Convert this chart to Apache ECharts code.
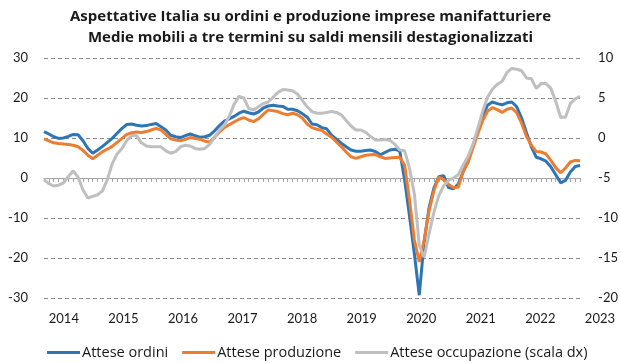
<!DOCTYPE html>
<html>
<head>
<meta charset="utf-8">
<script src="https://cdn.jsdelivr.net/npm/echarts@6/dist/echarts.min.js"></script>
<style>
  html, body { margin: 0; padding: 0; background: #fff; }
  #chart { width: 621px; height: 363px; }
</style>
</head>
<body>
<div id="chart"></div>
<script>
// Year labels on the time axis (one per January, months counted from Jan 2014)
const yearLabels = ['2014', '2015', '2016', '2017', '2018', '2019', '2020', '2021', '2022', '2023'];
// Month of the first observation, relative to January 2014 (Sep 2013)
const firstMonth = -4;

// Three-term moving averages of seasonally adjusted balances, monthly
const atteseOrdini = [
  11.6, 11.0, 10.3, 9.9, 10.0, 10.4, 10.9, 10.8, 9.3, 7.4,
  6.2, 7.0, 7.9, 8.9, 9.9, 11.2, 12.4, 13.4, 13.5, 13.2,
  13.0, 13.1, 13.4, 13.6, 12.8, 12.0, 10.7, 10.3, 10.1, 10.6,
  11.0, 10.6, 10.2, 10.3, 10.7, 11.8, 13.1, 14.2, 14.8, 15.4,
  16.2, 16.7, 16.3, 16.0, 16.5, 17.5, 18.0, 18.2, 18.0, 17.9,
  17.2, 17.2, 16.8, 16.1, 15.2, 13.5, 13.3, 12.6, 12.3, 10.7,
  9.7, 8.7, 7.8, 7.0, 6.7, 6.7, 6.9, 7.0, 6.6, 5.8,
  6.4, 7.0, 7.2, 6.7, -0.5, -9.5, -19.0, -29.3, -16.0, -7.5,
  -2.5, 0.3, 0.6, -2.4, -2.7, -1.5, 1.5, 4.6, 8.0, 11.8,
  15.3, 18.2, 19.0, 18.6, 18.3, 18.8, 19.0, 17.8, 15.0, 11.3,
  7.8, 5.2, 4.8, 4.2, 2.8, 0.8, -1.2, -0.6, 1.5, 2.9,
  3.1
];
const atteseProduzione = [
  9.8, 9.3, 8.8, 8.6, 8.5, 8.4, 8.2, 7.8, 6.9, 5.7,
  4.8, 5.7, 6.6, 7.2, 7.9, 8.9, 9.9, 10.9, 11.3, 11.5,
  11.4, 11.6, 12.0, 12.4, 12.0, 10.9, 9.8, 9.5, 9.3, 9.7,
  10.1, 9.9, 9.7, 9.2, 9.0, 10.2, 11.5, 12.6, 13.3, 14.0,
  14.7, 15.1, 14.5, 14.1, 14.8, 15.9, 17.0, 16.8, 16.6, 16.1,
  15.8, 16.2, 15.8, 15.0, 13.5, 12.6, 12.2, 11.9, 11.0, 10.2,
  9.0, 7.8, 6.5, 5.3, 4.9, 5.3, 5.7, 5.8, 5.9, 5.3,
  4.9, 5.0, 5.1, 5.2, 3.2, -5.5, -15.5, -21.0, -15.5, -8.3,
  -3.2, 0.2, -0.4, -1.6, -2.4, -2.3, 1.6, 3.8, 7.5, 11.0,
  14.3, 16.7, 17.6, 17.1, 16.4, 17.2, 17.5, 16.3, 13.7, 10.4,
  8.2, 6.6, 6.5, 6.0, 4.4, 2.6, 1.3, 2.5, 4.0, 4.4,
  4.3
];
const atteseOccupazione = [
  -5.2, -5.7, -6.0, -5.9, -5.6, -4.8, -4.1, -4.9, -6.5, -7.5,
  -7.3, -7.1, -6.6, -5.2, -3.2, -2.0, -1.3, -0.3, 0.3, 0.3,
  -0.6, -1.0, -1.1, -1.1, -1.1, -1.6, -1.9, -1.7, -1.1, -0.9,
  -1.0, -1.3, -1.4, -1.3, -0.8, 0.1, 1.0, 1.6, 2.7, 4.2,
  5.2, 5.0, 3.7, 3.5, 3.9, 4.3, 4.5, 5.1, 5.7, 6.05,
  6.0, 5.9, 5.5, 4.7, 3.9, 3.3, 3.1, 3.1, 3.2, 3.3,
  3.2, 2.9, 2.2, 1.5, 1.0, 1.0, 0.7, 0.2, -0.25, -0.25,
  -0.2, -0.3, -0.8, -1.5, -1.6, -3.8, -7.0, -13.4, -14.9, -12.0,
  -9.3, -7.2, -6.0, -5.3, -5.0, -4.6, -3.4, -2.3, -0.8, 1.2,
  3.3, 5.1, 6.1, 6.7, 7.1, 8.2, 8.7, 8.6, 8.4, 7.5,
  7.4, 6.2, 6.8, 6.8, 6.2, 4.6, 2.6, 2.6, 4.3, 4.9,
  5.2
];

const seriesNames = ['Attese ordini', 'Attese produzione', 'Attese occupazione (scala dx)'];
const seriesColors = ['#2E75B6', '#ED7D31', '#BFBFBF'];

const toPoints = arr => arr.map((v, i) => [firstMonth + i, v]);
const lastMonth = firstMonth + atteseOrdini.length - 1;

const FONT = 'Lato, "Open Sans", sans-serif';
const WIDE_FONT = '"Open Sans", Lato, sans-serif';
const TEXT = '#1a1a1a';

// Plot area edges (px)
const plotLeft = 44, plotRight = 590, plotTop = 58, plotBottom = 298, W = 621, H = 363;
const pxPerMonth = (plotRight - plotLeft) / (lastMonth - firstMonth);
// Label strip: same month scale, spanning Jan 2013 .. lastMonth + 4
const labMin = -12, labMax = lastMonth + 4;
const labLeft = plotLeft - (firstMonth - labMin) * pxPerMonth;
const labRight = plotRight + (labMax - lastMonth) * pxPerMonth;

const chart = echarts.init(document.getElementById('chart'), null, { renderer: 'canvas' });

chart.setOption({
  animation: false,
  backgroundColor: '#fff',
  textStyle: { fontFamily: FONT },
  title: {
    text: 'Aspettative Italia su ordini e produzione imprese manifatturiere\nMedie mobili a tre termini su saldi mensili destagionalizzati',
    left: 'center',
    top: 1,
    textStyle: { fontFamily: WIDE_FONT, fontSize: 15, fontWeight: 'bold', color: TEXT, lineHeight: 21 }
  },
  legend: {
    data: seriesNames,
    left: 42,
    top: 340,
    icon: 'rect',
    itemWidth: 33,
    itemHeight: 3,
    itemGap: 14,
    textStyle: { fontFamily: WIDE_FONT, fontSize: 14.5, color: TEXT, padding: [0, 0, 0, -3] }
  },
  grid: [
    { left: plotLeft, right: W - plotRight, top: plotTop, bottom: H - plotBottom },
    { left: labLeft, right: W - labRight, top: plotBottom - 10, bottom: H - plotBottom }
  ],
  xAxis: [
    {
      type: 'value', gridIndex: 0,
      min: firstMonth, max: lastMonth, interval: 1,
      axisLine: { show: true, onZero: true, onZeroAxisIndex: 0, lineStyle: { color: '#A6A6A6', width: 1 } },
      axisTick: { show: true, length: 4, lineStyle: { color: '#A6A6A6' } },
      axisLabel: { show: false },
      splitLine: { show: false }
    },
    {
      type: 'value', gridIndex: 1,
      min: labMin, max: labMax, interval: 12,
      axisLine: { show: false },
      axisTick: { show: false },
      splitLine: { show: false },
      axisLabel: {
        margin: 14,
        fontFamily: FONT, fontSize: 13, color: TEXT,
        formatter: v => (v >= 0 && v % 12 === 0 && yearLabels[v / 12]) ? yearLabels[v / 12] : ''
      }
    }
  ],
  yAxis: [
    {
      type: 'value', gridIndex: 0,
      min: -30, max: 30, interval: 10,
      axisLine: { show: false }, axisTick: { show: false },
      axisLabel: { margin: 16, fontFamily: FONT, fontSize: 13, color: TEXT },
      splitLine: { show: true, lineStyle: { color: '#8C8C8C', type: [4, 3], width: 1 } }
    },
    {
      type: 'value', gridIndex: 0, position: 'right',
      min: -20, max: 10, interval: 5,
      axisLine: { show: false }, axisTick: { show: false },
      axisLabel: { margin: 18, fontFamily: FONT, fontSize: 13, color: TEXT },
      splitLine: { show: false }
    },
    {
      type: 'value', gridIndex: 1, show: false, min: 0, max: 1
    }
  ],
  series: [
    {
      name: seriesNames[0], type: 'line', xAxisIndex: 0, yAxisIndex: 0,
      data: toPoints(atteseOrdini), showSymbol: false, symbol: 'none',
      color: seriesColors[0], lineStyle: { width: 3, color: seriesColors[0] }, z: 3
    },
    {
      name: seriesNames[1], type: 'line', xAxisIndex: 0, yAxisIndex: 0,
      data: toPoints(atteseProduzione), showSymbol: false, symbol: 'none',
      color: seriesColors[1], lineStyle: { width: 3, color: seriesColors[1] }, z: 4
    },
    {
      name: seriesNames[2], type: 'line', xAxisIndex: 0, yAxisIndex: 1,
      data: toPoints(atteseOccupazione), showSymbol: false, symbol: 'none',
      color: seriesColors[2], lineStyle: { width: 3, color: seriesColors[2] }, z: 5
    }
  ]
});
</script>
</body>
</html>
